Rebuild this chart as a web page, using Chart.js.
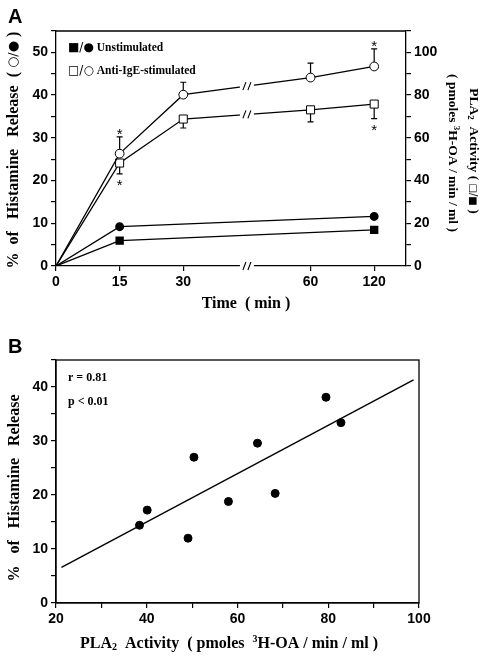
<!DOCTYPE html>
<html>
<head>
<meta charset="utf-8">
<script src="https://cdn.jsdelivr.net/npm/chart.js@4"></script>
<style>
html, body { margin: 0; padding: 0; background: #fff; }
#wrap { position: relative; width: 488px; height: 661px; }
#chartA { position: absolute; left: 0; top: 0; }
#chartB { position: absolute; left: 0; top: 330px; }
</style>
</head>
<body>
<div id="wrap">
    <canvas id="chartA" width="488" height="330"></canvas>
    <canvas id="chartB" width="488" height="331"></canvas>
</div>
<script>
// Panel A: time course
const times = [0, 15, 30, 60, 120];
const stimHistamine = [0, 26.3, 40.1, 44.1, 46.7];
const stimHistamineErr = [0, 3.9, 2.9, 3.4, 4.1];
const stimPLA2 = [0, 48.2, 68.8, 73.1, 75.8];
const stimPLA2Err = [0, 5.1, 4.2, 5.6, 6.8];
const unstimHistamine = [0, 9.2, null, null, 11.6];
const unstimPLA2 = [0, 11.9, null, null, 16.9];
const sigTimes = [15, 120];
const histTicks = [0, 10, 20, 30, 40, 50];
const pla2Ticks = [0, 20, 40, 60, 80, 100];

// Panel B: correlation
const pla2Activity = [38.4, 40.1, 49.1, 50.4, 58.0, 64.4, 68.3, 79.5, 82.8];
const histRelease = [14.4, 17.2, 12.0, 27.0, 18.8, 29.6, 20.3, 38.1, 33.4];
const fitX = [21.2, 98.8];
const fitY = [6.6, 41.3];
const xTicksB = [20, 40, 60, 80, 100];
const yTicksB = [0, 10, 20, 30, 40];

const SERIF = '"Liberation Serif", "Times New Roman", serif';
const SANS = '"Liberation Sans", Arial, sans-serif';
const SYM = '"DejaVu Sans", sans-serif';
const tickFont = { family: '"Liberation Sans", Arial, sans-serif', weight: 'bold', size: 14 };

// broken time axis: 0,15,30 evenly spaced, break, then 60,120
function axisPos(t) {
    return t <= 30 ? t / 15 : 4 + Math.log2(t / 60);
}
const BREAK_POS = 3;

function richText(ctx, parts, x, y, align) {
    let w = 0;
    parts.forEach(p => { ctx.font = p.font; w += ctx.measureText(p.t).width; });
    let cx = align === "center" ? x - w / 2 : x;
    ctx.textAlign = "left";
    ctx.textBaseline = "middle";
    parts.forEach(p => {
        ctx.font = p.font;
        ctx.fillText(p.t, cx, y + (p.dy || 0));
        cx += ctx.measureText(p.t).width;
    });
}

function rotatedText(ctx, parts, x, y, angle) {
    ctx.save();
    ctx.translate(x, y);
    ctx.rotate(angle);
    richText(ctx, parts, 0, 0, "center");
    ctx.restore();
}

function breakMark(ctx, x, y) {
    ctx.save();
    ctx.fillStyle = "#fff";
    ctx.fillRect(x - 7, y - 5, 14, 10);
    ctx.strokeStyle = "#000";
    ctx.lineWidth = 1.1;
    ctx.beginPath();
    ctx.moveTo(x - 4, y + 4); ctx.lineTo(x - 1, y - 4);
    ctx.moveTo(x + 1, y + 4); ctx.lineTo(x + 4, y - 4);
    ctx.stroke();
    ctx.restore();
}

function axisCommon(extra) {
    return Object.assign({
        grid: { drawOnChartArea: false, drawTicks: true, tickLength: 5, color: "#000", lineWidth: 1.2 },
        border: { color: "#000", width: 1.3 }
    }, extra);
}

const toPoints = (arr) => arr.map((v, i) => ({ x: axisPos(times[i]), y: v }));

// ---------- Panel A ----------
const panelAPlugin = {
    id: "panelA",
    beforeDatasetsDraw(chart) {
        const ctx = chart.ctx;
        const xs = chart.scales.x, y = chart.scales.y, y2 = chart.scales.y2;
        ctx.save();
        ctx.strokeStyle = "#000";
        ctx.lineWidth = 1.2;
        times.forEach((t, i) => {
            const px = xs.getPixelForValue(axisPos(t));
            if (stimHistamineErr[i] > 0) {
                const a = y.getPixelForValue(stimHistamine[i]);
                const b = y.getPixelForValue(stimHistamine[i] + stimHistamineErr[i]);
                ctx.beginPath();
                ctx.moveTo(px, a); ctx.lineTo(px, b);
                ctx.moveTo(px - 3, b); ctx.lineTo(px + 3, b);
                ctx.stroke();
            }
            if (stimPLA2Err[i] > 0) {
                const a = y2.getPixelForValue(stimPLA2[i]);
                const b = y2.getPixelForValue(stimPLA2[i] - stimPLA2Err[i]);
                ctx.beginPath();
                ctx.moveTo(px, a); ctx.lineTo(px, b);
                ctx.moveTo(px - 3, b); ctx.lineTo(px + 3, b);
                ctx.stroke();
            }
        });
        ctx.restore();
    },
    afterDraw(chart) {
        const ctx = chart.ctx;
        const area = chart.chartArea;
        const xs = chart.scales.x, y = chart.scales.y, y2 = chart.scales.y2;
        ctx.save();
        ctx.fillStyle = "#000";

        // top frame line
        ctx.strokeStyle = "#000";
        ctx.lineWidth = 1.3;
        ctx.beginPath();
        ctx.moveTo(area.left, area.top); ctx.lineTo(area.right, area.top);
        ctx.stroke();

        // axis breaks
        const bx = xs.getPixelForValue(BREAK_POS);
        breakMark(ctx, bx, area.bottom);
        const i30 = times.indexOf(30), i60 = times.indexOf(60);
        breakMark(ctx, bx, (y.getPixelForValue(stimHistamine[i30]) + y.getPixelForValue(stimHistamine[i60])) / 2);
        breakMark(ctx, bx, (y2.getPixelForValue(stimPLA2[i30]) + y2.getPixelForValue(stimPLA2[i60])) / 2);

        // significance stars
        ctx.font = "15px " + SANS;
        ctx.textAlign = "center";
        ctx.textBaseline = "alphabetic";
        sigTimes.forEach(t => {
            const i = times.indexOf(t);
            const px = xs.getPixelForValue(axisPos(t));
            const top = y.getPixelForValue(stimHistamine[i] + stimHistamineErr[i]);
            ctx.fillText("*", px, top + 2);
            const bot = y2.getPixelForValue(stimPLA2[i] - stimPLA2Err[i]);
            ctx.fillText("*", px, bot + 16);
        });

        // legend
        const lf = "bold 11.5px " + SERIF;
        richText(ctx, [{ t: "■/●", font: "12px " + SYM }, { t: " Unstimulated", font: lf }], 68, 48, "left");
        richText(ctx, [{ t: "□/○", font: "12px " + SYM }, { t: " Anti-IgE-stimulated", font: lf }], 68, 71, "left");

        // panel letter
        ctx.font = "bold 20px " + SANS;
        ctx.textAlign = "left";
        ctx.textBaseline = "middle";
        ctx.fillText("A", 8, 17);

        // axis titles
        const tf = "bold 16px " + SERIF;
        const rf = "bold 13.5px " + SERIF;
        richText(ctx, [{ t: "Time  ( min )", font: tf }], 246, 304, "center");
        rotatedText(ctx, [
            { t: "%  of   Histamine   Release  ( ", font: tf },
            { t: "○/●", font: "13px " + SYM },
            { t: " )", font: tf }
        ], 14, 150, -Math.PI / 2);
        rotatedText(ctx, [
            { t: "PLA", font: rf },
            { t: "2", font: "bold 9px " + SERIF, dy: 3 },
            { t: "  Activity ( ", font: rf },
            { t: "□/■", font: "10px " + SYM },
            { t: " )", font: rf }
        ], 473, 151, Math.PI / 2);
        rotatedText(ctx, [
            { t: "( pmoles ", font: rf },
            { t: "3", font: "bold 9px " + SERIF, dy: -4 },
            { t: "H-OA / min / ml )", font: rf }
        ], 452, 153, Math.PI / 2);
        ctx.restore();
    }
};

new Chart(document.getElementById("chartA"), {
    type: "line",
    data: {
        datasets: [
            {
                label: "Anti-IgE histamine",
                data: toPoints(stimHistamine),
                yAxisID: "y",
                borderColor: "#000",
                borderWidth: 1.3,
                pointStyle: "circle",
                pointRadius: c => c.dataIndex === 0 ? 0 : 4.4,
                pointBackgroundColor: "#fff",
                pointBorderColor: "#000",
                pointBorderWidth: 1,
                tension: 0
            },
            {
                label: "Anti-IgE PLA2",
                data: toPoints(stimPLA2),
                yAxisID: "y2",
                borderColor: "#000",
                borderWidth: 1.3,
                pointStyle: "rect",
                pointRadius: c => c.dataIndex === 0 ? 0 : 5.7,
                pointBackgroundColor: "#fff",
                pointBorderColor: "#000",
                pointBorderWidth: 1,
                tension: 0
            },
            {
                label: "Unstimulated histamine",
                data: toPoints(unstimHistamine),
                yAxisID: "y",
                borderColor: "#000",
                borderWidth: 1.3,
                pointStyle: "circle",
                pointRadius: c => c.dataIndex === 0 ? 0 : 3.8,
                pointBackgroundColor: "#000",
                pointBorderColor: "#000",
                spanGaps: true,
                tension: 0
            },
            {
                label: "Unstimulated PLA2",
                data: toPoints(unstimPLA2),
                yAxisID: "y2",
                borderColor: "#000",
                borderWidth: 1.3,
                pointStyle: "rect",
                pointRadius: c => c.dataIndex === 0 ? 0 : 5,
                pointBackgroundColor: "#000",
                pointBorderColor: "#000",
                spanGaps: true,
                tension: 0
            }
        ]
    },
    options: {
        responsive: false,
        animation: false,
        devicePixelRatio: 1,
        layout: { padding: { top: 31, left: 0, right: 0, bottom: 0 } },
        plugins: { legend: { display: false }, tooltip: { enabled: false } },
        scales: {
            x: axisCommon({
                type: "linear",
                min: 0,
                max: 5.5,
                afterBuildTicks: s => { s.ticks = times.map(t => ({ value: axisPos(t) })); },
                afterFit: s => { s.height = 64; },
                ticks: {
                    autoSkip: false,
                    maxRotation: 0,
                    color: "#000",
                    font: tickFont,
                    padding: 3,
                    callback: v => {
                        const i = times.findIndex(t => Math.abs(axisPos(t) - v) < 1e-6);
                        return i >= 0 ? String(times[i]) : "";
                    }
                }
            }),
            y: axisCommon({
                position: "left",
                min: 0,
                max: 55,
                afterFit: s => { s.width = 56; },
                ticks: {
                    stepSize: 5,
                    autoSkip: false,
                    color: "#000",
                    font: tickFont,
                    padding: 3,
                    callback: v => histTicks.includes(v) ? String(v) : ""
                }
            }),
            y2: axisCommon({
                position: "right",
                min: 0,
                max: 110,
                afterFit: s => { s.width = 82; },
                ticks: {
                    stepSize: 10,
                    autoSkip: false,
                    color: "#000",
                    font: tickFont,
                    padding: 3,
                    callback: v => pla2Ticks.includes(v) ? String(v) : ""
                }
            })
        }
    },
    plugins: [panelAPlugin]
});

// ---------- Panel B ----------
const panelBPlugin = {
    id: "panelB",
    afterDraw(chart) {
        const ctx = chart.ctx;
        const area = chart.chartArea;
        ctx.save();
        ctx.strokeStyle = "#000";
        ctx.lineWidth = 1.3;
        ctx.strokeRect(area.left, area.top, area.right - area.left, area.bottom - area.top);
        ctx.fillStyle = "#000";

        ctx.font = "bold 20px " + SANS;
        ctx.textAlign = "left";
        ctx.textBaseline = "middle";
        ctx.fillText("B", 8, 17);

        const sf = "bold 12px " + SERIF;
        richText(ctx, [{ t: "r = 0.81", font: sf }], 68, 48, "left");
        richText(ctx, [{ t: "p < 0.01", font: sf }], 68, 72, "left");

        const tf = "bold 16px " + SERIF;
        richText(ctx, [
            { t: "PLA", font: tf },
            { t: "2", font: "bold 10px " + SERIF, dy: 3 },
            { t: "  Activity  ( pmoles  ", font: tf },
            { t: "3", font: "bold 10px " + SERIF, dy: -5 },
            { t: "H-OA / min / ml )", font: tf }
        ], 229, 314, "center");
        rotatedText(ctx, [{ t: "%   of   Histamine   Release", font: tf }], 15, 158, -Math.PI / 2);
        ctx.restore();
    }
};

new Chart(document.getElementById("chartB"), {
    type: "scatter",
    data: {
        datasets: [
            {
                label: "Samples",
                data: pla2Activity.map((x, i) => ({ x: x, y: histRelease[i] })),
                pointRadius: 4,
                pointBackgroundColor: "#000",
                pointBorderColor: "#000",
                showLine: false
            },
            {
                label: "Regression",
                data: fitX.map((x, i) => ({ x: x, y: fitY[i] })),
                showLine: true,
                pointRadius: 0,
                borderColor: "#000",
                borderWidth: 1.4
            }
        ]
    },
    options: {
        responsive: false,
        animation: false,
        devicePixelRatio: 1,
        layout: { padding: { top: 30, left: 0, right: 69, bottom: 0 } },
        plugins: { legend: { display: false }, tooltip: { enabled: false } },
        scales: {
            x: axisCommon({
                type: "linear",
                min: 20,
                max: 100,
                afterFit: s => { s.height = 58; },
                ticks: {
                    stepSize: 10,
                    autoSkip: false,
                    maxRotation: 0,
                    color: "#000",
                    font: tickFont,
                    padding: 3,
                    callback: v => xTicksB.includes(v) ? String(v) : ""
                }
            }),
            y: axisCommon({
                min: 0,
                max: 45,
                afterFit: s => { s.width = 56; },
                ticks: {
                    stepSize: 5,
                    autoSkip: false,
                    color: "#000",
                    font: tickFont,
                    padding: 3,
                    callback: v => yTicksB.includes(v) ? String(v) : ""
                }
            })
        }
    },
    plugins: [panelBPlugin]
});
</script>
</body>
</html>
